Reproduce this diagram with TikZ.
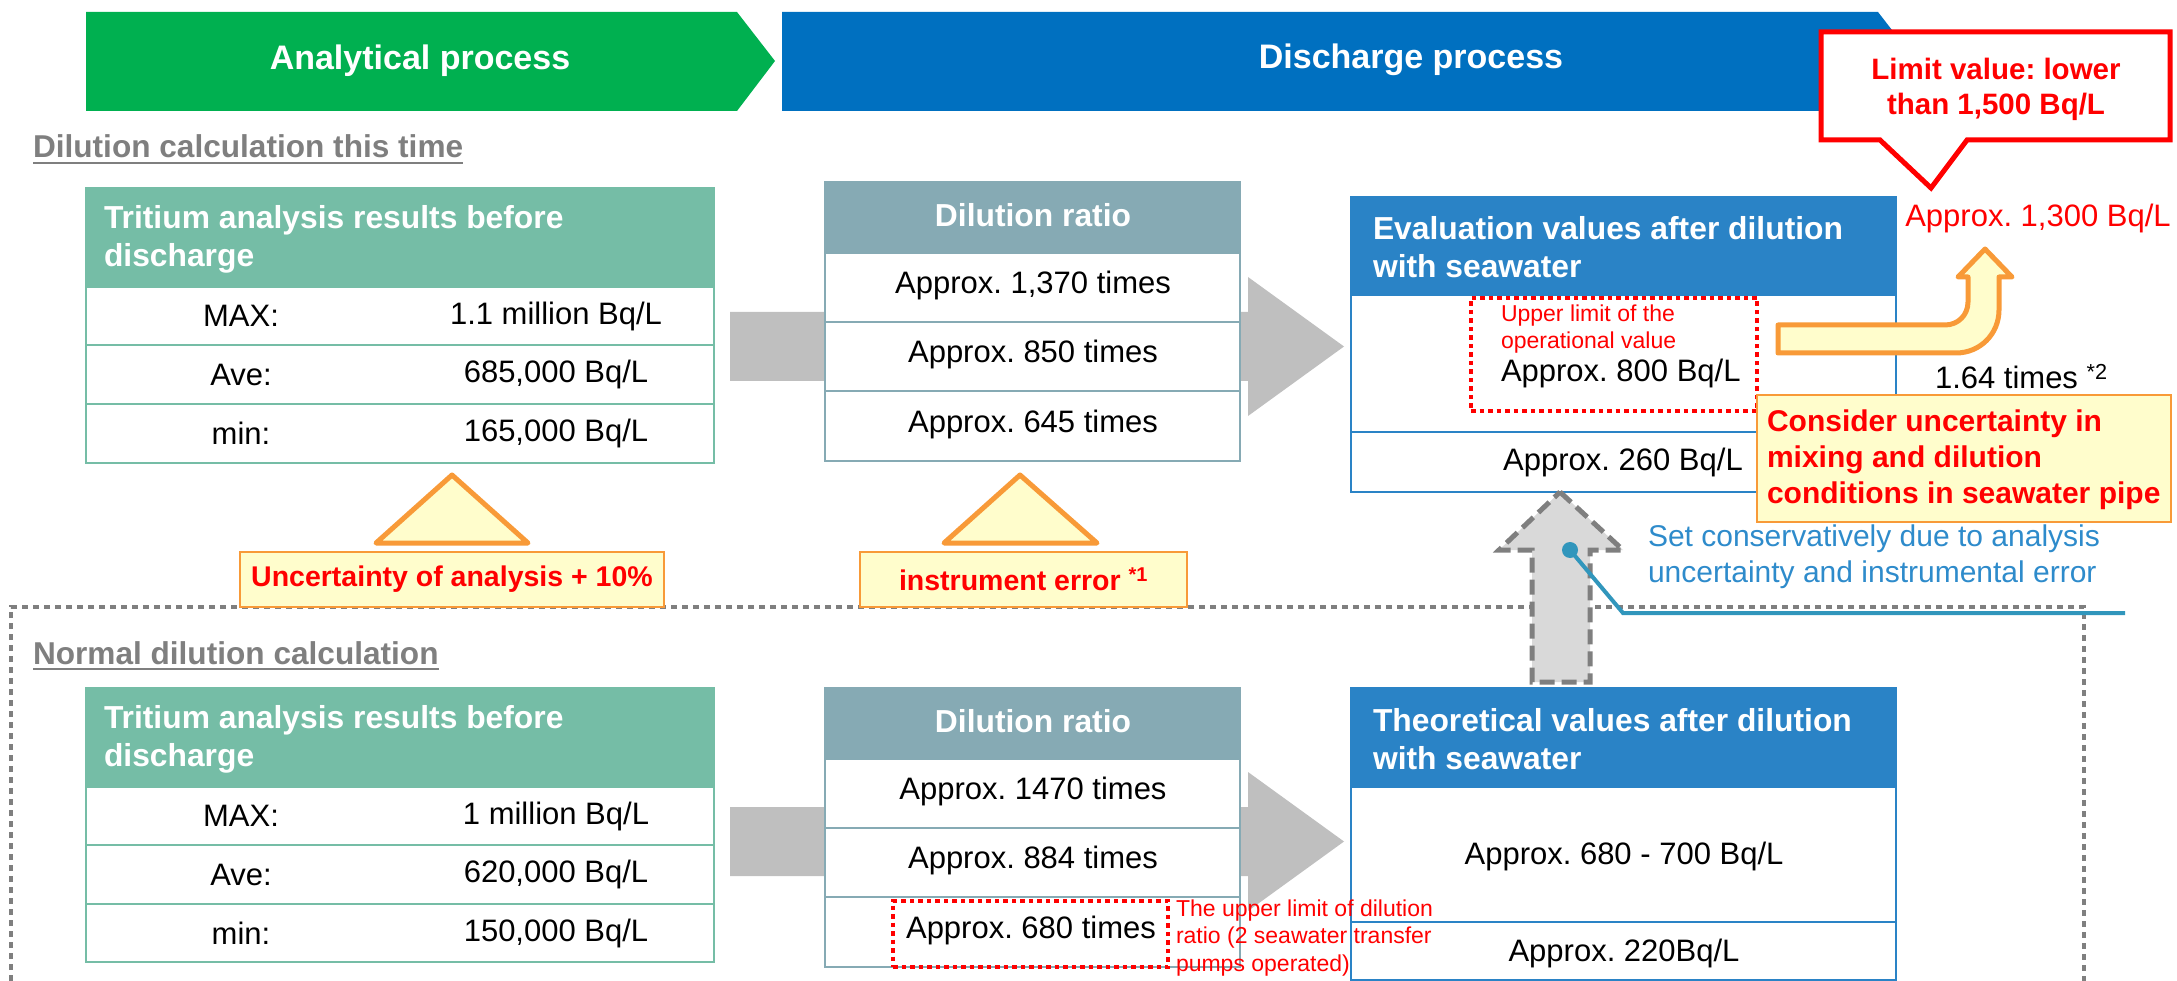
\documentclass[tikz,border=0pt]{standalone}
\usepackage{fontspec}
\setmainfont{Liberation Sans}
\usetikzlibrary{calc}
\definecolor{cgreen}{HTML}{00B050}
\definecolor{cblue}{HTML}{0070C0}
\definecolor{cteal}{HTML}{75BDA6}
\definecolor{cslate}{HTML}{86AAB4}
\definecolor{chead}{HTML}{2A83C6}
\definecolor{carrow}{HTML}{BFBFBF}
\definecolor{corange}{HTML}{F89A38}
\definecolor{cyellow}{HTML}{FFFDCC}
\definecolor{cnote}{HTML}{2E8BCB}
\definecolor{cline}{HTML}{3196BC}
\definecolor{cgraytxt}{HTML}{7F7F7F}
\definecolor{cdash}{HTML}{7F7F7F}
\definecolor{cdashfill}{HTML}{D9D9D9}
\frenchspacing
\begin{document}
\begin{tikzpicture}[x=1pt,y=-1pt,
  every node/.style={inner sep=0pt,outer sep=0pt},
  body/.style={font=\fontsize{31}{37}\selectfont},
  hdr/.style={font=\bfseries\fontsize{31.8}{38}\selectfont,text=white},
  hdrbox/.style={fill=#1,draw=#1,line width=2.5,anchor=north west},
  rowbox/.style={draw=#1,fill=white,line width=2.5,anchor=north west},
  redsmall/.style={font=\fontsize{23}{27.5}\selectfont,text=red,align=left},
  redbox/.style={draw=red,line width=4.5,dash pattern=on 4.5 off 4,anchor=north west},
  labelbox/.style={draw=corange,fill=cyellow,line width=2.5,font=\bfseries\fontsize{28.5}{34}\selectfont,text=red},
  tri/.style={draw=corange,fill=cyellow,line width=5,line join=round},
  region/.style={draw=cdash,line width=4,dash pattern=on 6 off 5},
  sectitle/.style={font=\bfseries\fontsize{31.6}{36}\selectfont,text=cgraytxt,anchor=base west},
  blockarrow/.style={fill=carrow}
]
\useasboundingbox (0,0) rectangle (2177,981);

% banners
\fill[cgreen] (86,12) -- (737,12) -- (775,61) -- (737,111) -- (86,111) -- cycle;
\fill[cblue] (782,12) -- (1878,12) -- (1916,61) -- (1878,111) -- (782,111) -- cycle;
\node[font=\bfseries\fontsize{34}{40}\selectfont,text=white] (ban1) at (420,61) {Analytical process};
\node[font=\bfseries\fontsize{34}{40}\selectfont,text=white] (ban2) at (1411,60) {Discharge process};

% section titles
\node[sectitle] (sec1) at (33,158) {Dilution calculation this time};
\draw[cgraytxt,line width=2.5] ($(sec1.base west)+(0,5)$) -- ($(sec1.base east)+(0,5)$);

% dotted region
\draw[region] (11,981) -- (11,607) -- (2084,607) -- (2084,981);
\node[sectitle] (sec2) at (33,664) {Normal dilution calculation};
\draw[cgraytxt,line width=2.5] ($(sec2.base west)+(0,5)$) -- ($(sec2.base east)+(0,5)$);

% gray block arrows
\fill[blockarrow] (730,312) -- (1248,312) -- (1248,277) -- (1344,346.5) -- (1248,416) -- (1248,381) -- (730,381) -- cycle;
\fill[blockarrow] (730,807) -- (1248,807) -- (1248,772) -- (1344,841.5) -- (1248,911) -- (1248,876) -- (730,876) -- cycle;

% ---------- Table 1 (top) ----------
\node[hdrbox=cteal,minimum width=628,minimum height=99] (t1h) at (86,188) {};
\node[hdr,anchor=west,align=left] (t1ht) at (104,239) {Tritium analysis results before\\discharge};
\node[rowbox=cteal,minimum width=628,minimum height=58] (t1r1) at (86,287) {};
\node[rowbox=cteal,minimum width=628,minimum height=59] (t1r2) at (86,345) {};
\node[rowbox=cteal,minimum width=628,minimum height=59] (t1r3) at (86,404) {};
\node[body] (t1a) at (241,316) {MAX:};
\node[body] (t1av) at (556,316) {1.1 million Bq/L};
\node[body] (t1b) at (241,374.5) {Ave:};
\node[body] (t1bv) at (556,374.5) {685,000 Bq/L};
\node[body] (t1c) at (241,433.5) {min:};
\node[body] (t1cv) at (556,433.5) {165,000 Bq/L};

% ---------- Table 2 (top) ----------
\node[hdrbox=cslate,minimum width=415,minimum height=71] (t2h) at (825,182) {};
\node[hdr] (t2ht) at (1033,215) {Dilution ratio};
\node[rowbox=cslate,minimum width=415,minimum height=69] (t2r1) at (825,253) {};
\node[rowbox=cslate,minimum width=415,minimum height=69] (t2r2) at (825,322) {};
\node[rowbox=cslate,minimum width=415,minimum height=70] (t2r3) at (825,391) {};
\node[body] (t2a) at (1033,285) {Approx. 1,370 times};
\node[body] (t2b) at (1033,354) {Approx. 850 times};
\node[body] (t2c) at (1033,424) {Approx. 645 times};

% ---------- Evaluation box ----------
\node[hdrbox=chead,minimum width=545,minimum height=98] (evh) at (1351,197) {};
\node[hdr,anchor=west,align=left] (evht) at (1373,247) {Evaluation values after dilution\\with seawater};
\node[rowbox=chead,minimum width=545,minimum height=137] (evr1) at (1351,295) {};
\node[rowbox=chead,minimum width=545,minimum height=60] (evr2) at (1351,432) {};
\node[redbox,minimum width=286,minimum height=113] (ul1) at (1471,298) {};
\node[redsmall,anchor=west] (ul1t) at (1501,329) {Upper limit of the\\operational value};
\node[body,anchor=west] (ev800) at (1501,373) {Approx. 800 Bq/L};
\node[body] (ev260) at (1623,462) {Approx. 260 Bq/L};

% ---------- Table 3 (bottom) ----------
\node[hdrbox=cteal,minimum width=628,minimum height=99] (t3h) at (86,688) {};
\node[hdr,anchor=west,align=left] (t3ht) at (104,739) {Tritium analysis results before\\discharge};
\node[rowbox=cteal,minimum width=628,minimum height=58] (t3r1) at (86,787) {};
\node[rowbox=cteal,minimum width=628,minimum height=59] (t3r2) at (86,845) {};
\node[rowbox=cteal,minimum width=628,minimum height=58] (t3r3) at (86,904) {};
\node[body] (t3a) at (241,816) {MAX:};
\node[body] (t3av) at (556,816) {1 million Bq/L};
\node[body] (t3b) at (241,874.5) {Ave:};
\node[body] (t3bv) at (556,874.5) {620,000 Bq/L};
\node[body] (t3c) at (241,933) {min:};
\node[body] (t3cv) at (556,933) {150,000 Bq/L};

% ---------- Table 4 (bottom) ----------
\node[hdrbox=cslate,minimum width=415,minimum height=71] (t4h) at (825,688) {};
\node[hdr] (t4ht) at (1033,721) {Dilution ratio};
\node[rowbox=cslate,minimum width=415,minimum height=69] (t4r1) at (825,759) {};
\node[rowbox=cslate,minimum width=415,minimum height=69] (t4r2) at (825,828) {};
\node[rowbox=cslate,minimum width=415,minimum height=70] (t4r3) at (825,897) {};
\node[body] (t4a) at (1033,791) {Approx. 1470 times};
\node[body] (t4b) at (1033,860) {Approx. 884 times};
\node[redbox,minimum width=275,minimum height=66] (ul2) at (893,901) {};
\node[body] (t4c) at (1031,930) {Approx. 680 times};

% ---------- Theoretical box ----------
\node[hdrbox=chead,minimum width=545,minimum height=99] (thh) at (1351,688) {};
\node[hdr,anchor=west,align=left] (thht) at (1373,739) {Theoretical values after dilution\\with seawater};
\node[rowbox=chead,minimum width=545,minimum height=135] (thr1) at (1351,787) {};
\node[rowbox=chead,minimum width=545,minimum height=58] (thr2) at (1351,922) {};
\node[body] (th700) at (1624,856) {Approx. 680 - 700 Bq/L};
\node[body] (th220) at (1624,953) {Approx. 220Bq/L};
\node[redsmall,anchor=west] (ul2t) at (1176,938) {The upper limit of dilution\\ratio (2 seawater transfer\\pumps operated)};

% ---------- triangles and labels ----------
\draw[tri] (452,475) -- (528,543) -- (376,543) -- cycle;
\draw[tri] (1020,475) -- (1097,543) -- (944,543) -- cycle;
\node[labelbox,minimum width=424,minimum height=55] (lb1) at (452,579.5) {Uncertainty of analysis + 10\%};
\node[labelbox,minimum width=327,minimum height=55] (lb2) at (1023.5,579.5) {instrument error \textsuperscript{*1}};

% ---------- gray dashed up arrow ----------
\draw[fill=cdashfill,draw=cdash,line width=5,dash pattern=on 15 off 7]
  (1560,492) -- (1623,550) -- (1590,550) -- (1590,682) -- (1532,682) -- (1532,550) -- (1499,550) -- cycle;

% ---------- blue note ----------
\coordinate (dot) at (1570,550);
\coordinate (bend) at (1623,613);
\coordinate (lend) at (2125,613);
\fill[cline] (dot) circle (8);
\draw[cline,line width=4] (dot) -- (bend) -- (lend);
\node[font=\fontsize{30}{36}\selectfont,text=cnote,align=left,anchor=west] (note) at (1648,557) {Set conservatively due to analysis\\uncertainty and instrumental error};

% ---------- limit callout ----------
\draw[red,line width=5,fill=white,line join=miter]
  (1821,32) -- (2170,32) -- (2170,140) -- (1967,140) -- (1931,188) -- (1880,140) -- (1821,140) -- cycle;
\node[font=\bfseries\fontsize{29.5}{35}\selectfont,text=red,align=center] (lim) at (1996,89) {Limit value: lower\\than 1,500 Bq/L};
\node[font=\fontsize{31}{37}\selectfont,text=red] (v1300) at (2038,218) {Approx. 1,300 Bq/L};

% ---------- orange bent arrow ----------
\draw[draw=corange,fill=cyellow,line width=5,line join=round]
  (1778,325) -- (1945,325) .. controls (1958,325) and (1968,315) .. (1968,302)
  -- (1968,277) -- (1958,277) -- (1985,249) -- (2012,277) -- (1999,277) -- (1999,310)
  .. controls (1999,334) and (1980,353) .. (1956,353) -- (1778,353) -- cycle;
\node[body,anchor=west] (x164) at (1935,377) {1.64 times \textsuperscript{*2}};

% ---------- consider box ----------
\node[draw=corange,fill=cyellow,line width=2.5,minimum width=414,minimum height=127,anchor=north west] (cons) at (1757,395) {};
\node[font=\bfseries\fontsize{30}{36}\selectfont,text=red,align=left,anchor=west] (const) at (1767,460) {Consider uncertainty in\\mixing and dilution\\conditions in seawater pipe};
\end{tikzpicture}
\end{document}
